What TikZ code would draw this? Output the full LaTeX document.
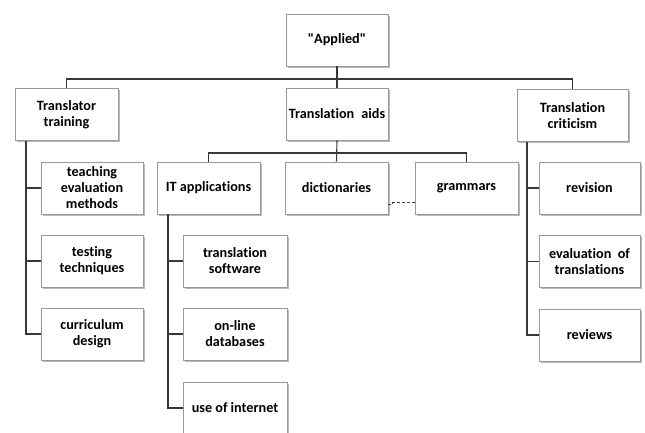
\documentclass[tikz,border=0pt]{standalone}
\usepackage{fontspec}
\setmainfont[Ligatures={NoCommon,TeXOff}]{Carlito}
\usetikzlibrary{shadows}
\begin{document}
\begin{tikzpicture}[x=1pt,y=-1pt,
  box/.style={draw=black!40, line width=0.8pt, fill=white, align=center,
    font=\bfseries\fontsize{14.2}{16}\selectfont, inner sep=1pt,
    minimum width=102pt, minimum height=52pt,
    drop shadow={shadow xshift=1.6pt, shadow yshift=-1.6pt, fill=black!45, opacity=0.6}},
  conn/.style={draw=black!78, line width=1.1pt},
  linkdash/.style={draw=black!75, line width=0.9pt, dash pattern=on 3pt off 2pt}]
\clip (0,0) rectangle (645,432);
\useasboundingbox (0,0) rectangle (645,432);
\fill[white] (0,0) rectangle (645,432);

% top levels
\node[box] (applied) at (337,40) {"Applied"};
\node[box, minimum width=103pt] (tt) at (66.5,114.5) {Translator\\training};
\node[box] (ta) at (337,114) {Translation\hspace{0.5em}aids};
\node[box, minimum width=111pt] (tc) at (572.5,115.5) {Translation\\criticism};

% translator training branch
\node[box] (tev) at (92,188) {teaching\\evaluation\\methods};
\node[box] (tst) at (92,261) {testing\\techniques};
\node[box] (cur) at (92,334) {curriculum\\design};

% translation aids branch
\node[box, minimum width=103pt] (it) at (208.5,188) {IT applications};
\node[box, minimum width=103pt] (dict) at (336.5,188) {dictionaries};
\node[box, minimum width=103pt] (gram) at (466.5,188) {grammars};
\node[box, minimum width=104pt] (sw) at (235,261) {translation\\software};
\node[box, minimum width=104pt] (db) at (235,334) {on-line\\databases};
\node[box, minimum width=104pt] (inet) at (235,408) {use of internet};

% translation criticism branch
\node[box, minimum width=101pt] (rev) at (589.5,188) {revision};
\node[box, minimum width=101pt] (evt) at (589.5,261.5) {evaluation\hspace{0.45em}of\\translations};
\node[box, minimum width=101pt] (rws) at (589.5,335) {reviews};

% trunk lines and buses
\coordinate (bus1) at (0,79);
\coordinate (bus2) at (0,153);
\coordinate (ltrunk) at (26,0);
\coordinate (mtrunk) at (168,0);
\coordinate (rtrunk) at (527,0);

\draw[conn] (applied.south) -- (applied.south |- bus1);
\draw[conn] (tt.north) |- (tc.north |- bus1) -- (tc.north);
\draw[conn] (ta.north) -- (ta.north |- bus1);

\draw[conn] (ta.south) -- (dict.north);
\draw[conn] (it.north) |- (gram.north |- bus2) -- (gram.north);

\draw[conn] (ltrunk |- tt.south) |- (cur.west);
\draw[conn] (ltrunk |- tev.west) -- (tev.west);
\draw[conn] (ltrunk |- tst.west) -- (tst.west);

\draw[conn] (mtrunk |- it.south) |- (inet.west);
\draw[conn] (mtrunk |- sw.west) -- (sw.west);
\draw[conn] (mtrunk |- db.west) -- (db.west);

\draw[conn] (rtrunk |- tc.south) |- (rws.west);
\draw[conn] (rtrunk |- rev.west) -- (rev.west);
\draw[conn] (rtrunk |- evt.west) -- (evt.west);

% dashed link between dictionaries and grammars, with a small step
\draw[linkdash] ([yshift=-16pt]dict.east) -- ++(4,0) -- ++(0,-1.5) -| ([yshift=-14.5pt]gram.west);
\end{tikzpicture}
\end{document}
